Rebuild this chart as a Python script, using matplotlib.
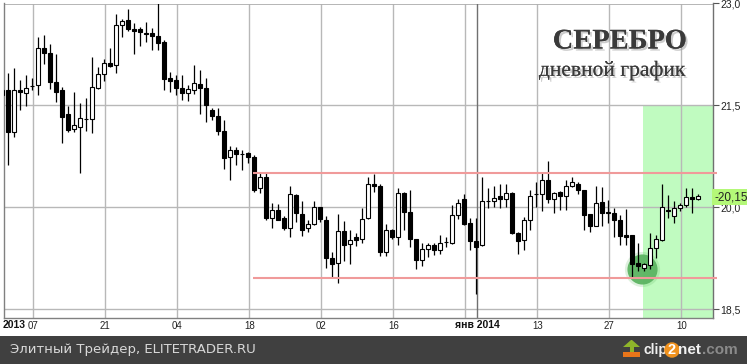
import matplotlib
matplotlib.use('Agg')
import numpy as np
import matplotlib.pyplot as plt
from matplotlib.patches import Rectangle, Polygon
import matplotlib.patheffects as pe

# daily silver candles
opens = [21.66, 21.73, 21.11, 21.73, 21.69, 21.78, 21.80, 22.35, 22.27, 21.85,
         21.72, 21.38, 21.15, 21.18, 21.30, 21.30, 21.76, 21.96, 22.12, 22.09,
         22.68, 22.75, 22.63, 22.63, 22.57, 22.56, 22.52, 22.44, 21.90, 21.87,
         21.75, 21.69, 21.72, 21.82, 21.75, 21.43, 21.35, 21.13, 20.74, 20.85,
         20.79, 20.80, 20.74, 20.28, 20.44, 19.85, 19.96, 19.85, 19.69, 20.18,
         19.90, 19.69, 19.75, 20.00, 19.82, 19.25, 19.18, 19.65, 19.46, 19.56,
         19.53, 19.84, 20.34, 20.31, 19.35, 19.66, 19.57, 20.21, 19.93, 19.54,
         19.22, 19.39, 19.44, 19.37, 19.49, 19.47, 19.89, 20.13, 19.77, 19.50,
         19.45, 20.10, 20.10, 20.16, 20.13, 20.21, 19.63, 19.52, 19.81, 20.19,
         20.19, 20.41, 20.13, 20.23, 20.16, 20.31, 20.35, 20.25, 19.90, 19.72,
         20.08, 19.93, 19.91, 19.81, 19.59, 19.59, 19.18, 19.11, 19.15, 19.40,
         19.52, 19.96, 19.88, 19.99, 20.04, 20.15, 20.12]
closes = [21.73, 21.11, 21.73, 21.70, 21.75, 21.78, 22.34, 22.27, 21.85, 21.70,
          21.33, 21.14, 21.21, 21.31, 21.30, 21.77, 21.96, 22.13, 22.08, 22.69,
          22.74, 22.63, 22.60, 22.58, 22.55, 22.52, 22.42, 21.89, 21.86, 21.75,
          21.69, 21.74, 21.83, 21.75, 21.50, 21.35, 21.13, 20.73, 20.85, 20.78,
          20.79, 20.74, 20.25, 20.44, 19.85, 19.96, 19.82, 19.69, 20.19, 19.91,
          19.66, 19.76, 20.01, 19.83, 19.25, 19.17, 19.65, 19.44, 19.52, 19.52,
          19.83, 20.34, 20.31, 19.35, 19.66, 19.57, 20.21, 19.93, 19.54, 19.22,
          19.39, 19.44, 19.37, 19.48, 19.49, 19.89, 20.06, 19.76, 19.50, 19.42,
          20.10, 20.10, 20.14, 20.13, 20.21, 19.63, 19.51, 19.81, 20.16, 20.19,
          20.41, 20.13, 20.21, 20.16, 20.32, 20.37, 20.25, 19.89, 19.72, 20.07,
          19.91, 19.91, 19.81, 19.58, 19.57, 19.17, 19.14, 19.16, 19.40, 19.54,
          20.01, 19.94, 19.99, 20.04, 20.15, 20.12, 20.16]
highs = [21.75, 21.97, 22.05, 21.87, 21.95, 21.90, 22.51, 22.54, 22.40, 22.26,
         21.77, 21.49, 21.70, 21.53, 21.61, 22.21, 22.07, 22.18, 22.34, 22.84,
         22.77, 22.92, 22.71, 22.65, 22.73, 22.64, 23.00, 22.46, 21.99, 21.95,
         21.95, 21.80, 22.09, 22.02, 21.91, 21.46, 21.46, 21.29, 20.90, 20.89,
         20.85, 20.82, 20.77, 20.50, 20.50, 20.06, 20.05, 19.87, 20.31, 20.20,
         20.09, 19.81, 20.10, 20.00, 19.88, 19.34, 19.90, 19.80, 19.67, 19.62,
         19.99, 20.44, 20.49, 20.35, 19.76, 19.68, 20.29, 20.23, 20.26, 19.54,
         19.47, 19.47, 19.48, 19.60, 19.56, 20.04, 20.12, 20.20, 19.84, 19.84,
         20.44, 20.28, 20.31, 20.35, 20.35, 20.23, 19.64, 19.86, 20.26, 20.38,
         20.50, 20.68, 20.23, 20.24, 20.41, 20.44, 20.38, 20.25, 19.90, 20.31,
         20.30, 20.11, 19.99, 19.89, 19.97, 19.59, 19.47, 19.18, 19.63, 19.60,
         20.34, 20.18, 20.10, 20.07, 20.28, 20.28, 20.19]
lows = [21.60, 20.63, 21.04, 21.43, 21.49, 21.72, 21.65, 22.11, 21.74, 21.55,
        20.95, 21.11, 21.11, 20.50, 21.13, 21.10, 21.74, 21.86, 22.06, 21.98,
        22.50, 22.60, 22.26, 22.37, 22.44, 22.31, 22.32, 21.73, 21.70, 21.65,
        21.58, 21.57, 21.67, 21.37, 21.25, 21.28, 21.06, 20.57, 20.41, 20.63,
        20.55, 20.66, 20.22, 20.21, 19.81, 19.70, 19.81, 19.66, 19.57, 19.79,
        19.58, 19.64, 19.74, 19.79, 19.11, 18.98, 18.89, 19.21, 19.17, 19.43,
        19.47, 19.83, 20.22, 19.28, 19.29, 19.53, 19.45, 19.67, 19.42, 19.10,
        19.13, 19.27, 19.30, 19.31, 19.42, 19.46, 19.83, 19.74, 19.38, 18.72,
        19.43, 19.99, 20.01, 19.99, 20.01, 19.61, 19.32, 19.37, 19.66, 20.01,
        19.95, 20.06, 19.91, 19.96, 19.96, 20.30, 20.20, 19.66, 19.64, 19.72,
        19.72, 19.77, 19.56, 19.45, 19.45, 18.97, 19.07, 19.07, 19.09, 19.25,
        19.50, 19.84, 19.77, 19.94, 20.01, 19.92, 20.11]

price_ticks = [23.0, 21.5, 20.0, 18.5]
price_labels = ['23,0', '21,5', '20,0', '18,5']
date_ticks = [5.17, 17.17, 29.17, 41.17, 53.17, 65.17, 77.17, 89.17, 101.17, 113.17]
date_labels = ['07', '21', '04', '18', '02', '16', '', '13', '27', '10']
year_marks = [2.0, 79.17]
year_labels = ['2013', 'янв 2014']
channel = [20.505, 18.96]
last_price = 20.15

W, H = 747, 364
fig = plt.figure(figsize=(W / 100, H / 100), dpi=100, facecolor='white')
ax = fig.add_axes([3.5 / W, 1 - 318 / H, 709.5 / W, 314.5 / H])
ax.set_xlim(0.2, 118.45)
ax.set_ylim(18.372, 23.0)
ax.set_facecolor('white')

x = np.arange(len(opens))
opens = np.array(opens)
closes = np.array(closes)
highs = np.array(highs)
lows = np.array(lows)

# green zone on the right
ax.add_patch(Rectangle((106.7, 18.372), 118.45 - 106.7, 21.5 - 18.372,
                       facecolor='#c0fbc0', edgecolor='none', zorder=0))

ax.grid(True, color='#b8b8b8', lw=1.0, zorder=1)
ax.set_axisbelow(True)
ax.axvline(79.17, color='#707070', lw=1.0, zorder=1.5)
ax.axhline(23.0, color='#b0b0b0', lw=2, zorder=1)

# marker round the low, sits under the candles
ax.scatter([106.6], [19.09], s=640, color='#5cb85c', alpha=0.2, lw=0, zorder=2)
ax.scatter([106.6], [19.09], s=470, color='#5cb462', alpha=0.95, lw=0, zorder=2.1)

# candles
ax.vlines(x, lows, highs, color='black', lw=0.9, zorder=3)
down = closes < opens
bottoms = np.minimum(opens, closes)
heights = np.abs(closes - opens)
ax.bar(x, heights, width=0.68, bottom=bottoms,
       color=['black' if d else 'white' for d in down],
       edgecolor='black', linewidth=0.8, zorder=4)

# channel lines
for p in channel:
    ax.plot([41.8, 119.1], [p, p], color='#f09a9a', lw=1.5, zorder=5,
            clip_on=False, solid_capstyle='butt')

ax.spines['top'].set_visible(False)
ax.spines['left'].set_color('#808080')
ax.spines['bottom'].set_color('#808080')
ax.spines['right'].set_color('#707070')
for s in ['left', 'bottom', 'right']:
    ax.spines[s].set_linewidth(1.0)

ax.yaxis.tick_right()
ax.set_yticks(price_ticks)
ax.set_yticklabels(price_labels, fontsize=7.5, family='Liberation Sans', color='#222222')
ax.tick_params(axis='y', length=4, width=0.8, color='#555555', pad=1.5)
ax.set_xticks(date_ticks)
ax.set_xticklabels(date_labels, fontsize=7, family='Liberation Sans', color='#222222')
ax.tick_params(axis='x', length=0, pad=2.5)

for pos, lab in zip(year_marks, year_labels):
    ax.text(pos, 18.372 - 7 / 68, lab, ha='center', va='center', fontsize=7.5,
            family='Liberation Sans', fontweight='bold', color='#111111', clip_on=False)

# last price flag
ax.text(118.7, last_price, '-' + f'{last_price:.2f}'.replace('.', ','), ha='left', va='center',
        fontsize=8.5, family='Liberation Sans', color='#222222', clip_on=False, zorder=8,
        bbox=dict(facecolor='#b4f878', edgecolor='none', pad=1.5))

# title
shadow = [pe.withSimplePatchShadow(offset=(1.5, -1.5), shadow_rgbFace='#999999', alpha=0.5), pe.Normal()]
fig.text(687 / W, 1 - 42 / H, 'СЕРЕБРО', ha='right', va='center', fontsize=20.5,
         family='Liberation Serif', fontweight='bold', color='#3a3a3a', path_effects=shadow)
fig.text(686 / W, 1 - 71 / H, 'дневной график', ha='right', va='center', fontsize=15.5,
         family='Liberation Serif', color='#3a3a3a', path_effects=shadow)

# footer
fig.add_artist(Rectangle((0, 0), 1, 28 / H, transform=fig.transFigure,
                         facecolor='#404040', edgecolor='none'))
fig.text(10 / W, 14 / H, 'Элитный Трейдер, ELITETRADER.RU', ha='left', va='center',
         fontsize=9.5, family='DejaVu Sans', color='#d8d8d8')

# clip2net logo
arrow = [(630, 347), (623, 347), (631, 340), (632, 340), (640, 347), (634, 347), (634, 352), (630, 352)]
fig.add_artist(Polygon([(a / W, 1 - b / H) for a, b in arrow], transform=fig.transFigure,
                       facecolor='#8fb52a', edgecolor='none'))
fig.add_artist(Rectangle((623 / W, 1 - 357 / H), 17 / W, 5 / H, transform=fig.transFigure,
                         facecolor='#e8751a', edgecolor='none'))
fig.text(643 / W, 14 / H, 'clip', ha='left', va='center', fontsize=10,
         family='Liberation Sans', fontweight='bold', color='#f0f0f0')
fig.text(672 / W, 14 / H, '2', ha='center', va='center', fontsize=10.5,
         family='Liberation Sans', fontweight='bold', color='white',
         bbox=dict(boxstyle='circle,pad=0.05', facecolor='#f0921e', edgecolor='none'))
fig.text(678 / W, 14 / H, 'net', ha='left', va='center', fontsize=11,
         family='Liberation Sans', fontweight='bold', color='#f0f0f0')
fig.text(702 / W, 14 / H, '.com', ha='left', va='center', fontsize=11,
         family='Liberation Sans', fontweight='bold', color='#8a8a8a')

fig.savefig('out.png', dpi=100, facecolor='white')
